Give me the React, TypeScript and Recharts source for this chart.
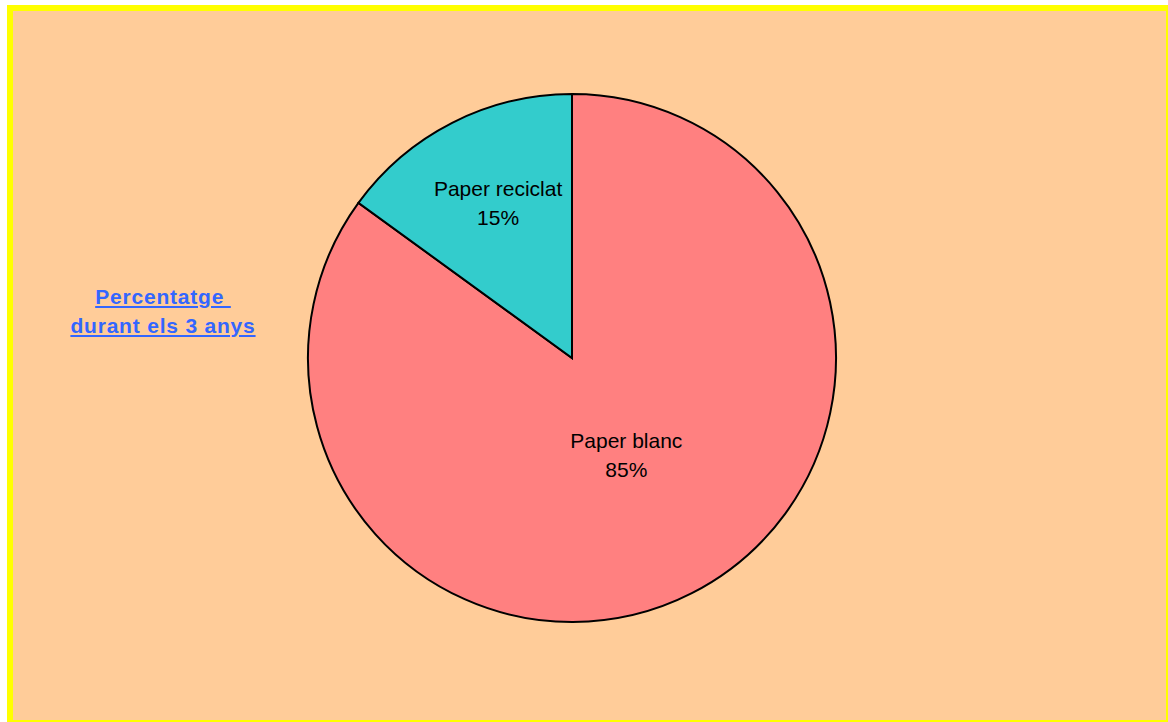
import React from "react";
import { PieChart, Pie, Cell } from "recharts";

const categories = ["Paper blanc", "Paper reciclat"];
const values = [85, 15];
const colors = ["#FF8080", "#33CCCC"];
const titleLines = ["Percentatge ", "durant els 3 anys"];

const data = categories.map((name, i) => ({ name, value: values[i] }));
const total = values.reduce((a, b) => a + b, 0);

const RAD = Math.PI / 180;

const renderLabel = (props: any) => {
  const { cx, cy, midAngle, outerRadius, index, name, value } = props;
  const frac = index === 0 ? 0.42 : 0.65;
  const r = outerRadius * frac;
  const x = cx + r * Math.cos(-midAngle * RAD) + 4;
  const y = cy + r * Math.sin(-midAngle * RAD);
  const pct = Math.round((value / total) * 100) + "%";
  return (
    <text
      x={x}
      y={y}
      textAnchor="middle"
      fill="#000"
      fontFamily="'Liberation Sans', Arial, sans-serif"
      fontSize={21}
    >
      <tspan x={x} dy={-9}>{name}</tspan>
      <tspan x={x} dy={29}>{pct}</tspan>
    </text>
  );
};

export default function App() {
  return (
    <div
      style={{
        position: "fixed",
        left: 0,
        top: 0,
        width: 1168,
        height: 722,
        overflow: "hidden",
        background: "#fff",
      }}
    >
      <div
        style={{
          position: "absolute",
          left: 7,
          top: 5,
          width: 1165,
          height: 721,
          boxSizing: "border-box",
          border: "6px solid #FFFF00",
          background: "#FFCC99",
        }}
      />
      <div style={{ position: "absolute", left: 0, top: 0 }}>
        <PieChart width={1168} height={722} margin={{ top: 0, right: 0, bottom: 0, left: 0 }}>
          <Pie
            data={data}
            dataKey="value"
            nameKey="name"
            cx={572}
            cy={358}
            outerRadius={264}
            startAngle={90}
            endAngle={-270}
            stroke="#000"
            strokeWidth={2}
            label={renderLabel}
            labelLine={false}
            isAnimationActive={false}
          >
            {data.map((d, i) => (
              <Cell key={d.name} fill={colors[i]} />
            ))}
          </Pie>
        </PieChart>
      </div>
      <div
        style={{
          position: "absolute",
          left: 63,
          top: 282,
          width: 200,
          textAlign: "center",
          fontFamily: "'Liberation Sans', Arial, sans-serif",
          fontWeight: "bold",
          fontSize: 21,
          lineHeight: "29px",
          color: "#3366FF",
          textDecoration: "underline",
          whiteSpace: "pre",
          letterSpacing: 0.8,
        }}
      >
        {titleLines.map((t) => (
          <div key={t}>{t}</div>
        ))}
      </div>
    </div>
  );
}
